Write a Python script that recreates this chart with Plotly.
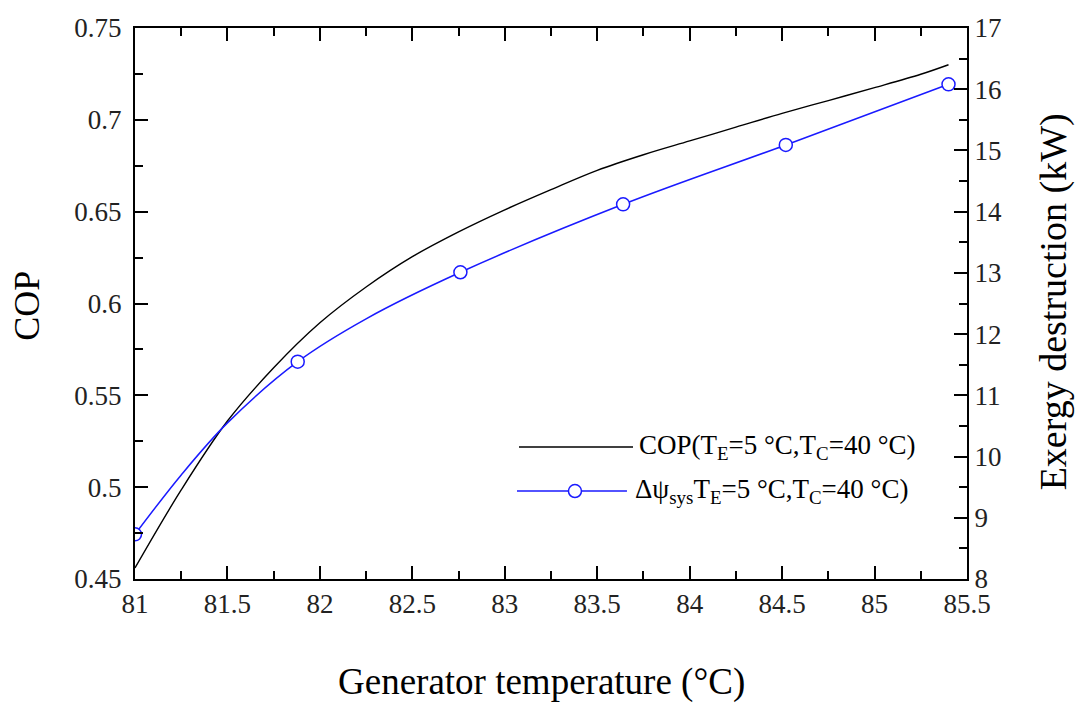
import plotly.graph_objects as go

# ---- data ----
cop_t = [81.0, 81.25, 81.5, 81.75, 82.0, 82.25, 82.5, 82.75, 83.0, 83.25, 83.5,
         83.75, 84.0, 84.25, 84.5, 84.75, 85.0, 85.25, 85.4]
cop_v = [0.456, 0.4985, 0.536, 0.565, 0.5895, 0.609, 0.6255, 0.639, 0.651, 0.662, 0.6725,
         0.681, 0.6885, 0.696, 0.7035, 0.7105, 0.7175, 0.7248, 0.730]

# markers of the exergy-destruction series
ex_t = [81.0, 81.88, 82.76, 83.64, 84.52, 85.4]
ex_v = [8.73, 11.55, 13.01, 14.12, 15.09, 16.08]
# the same curve read more densely (line path between markers)
ex_line_t = [81.0, 81.25, 81.5, 81.88, 82.25, 82.76, 83.64, 84.52, 85.4]
ex_line_v = [8.73, 9.70, 10.55, 11.55, 12.25, 13.01, 14.12, 15.09, 16.08]

x_title = "Generator temperature (°C)"
y_title = "COP"
y2_title = "Exergy destruction (kW)"
leg1 = "COP(T<sub>E</sub>=5 °C,T<sub>C</sub>=40 °C)"
leg2 = "Δψ<sub>sys</sub>T<sub>E</sub>=5 °C,T<sub>C</sub>=40 °C)"

FONT = "Liberation Serif"
BLUE = "#1a1aff"

fig = go.Figure()
fig.add_trace(go.Scatter(x=cop_t, y=cop_v, mode="lines",
                         line=dict(color="black", width=1.4, shape="spline"),
                         showlegend=False, yaxis="y"))
fig.add_trace(go.Scatter(x=ex_line_t, y=ex_line_v, mode="lines",
                         line=dict(color=BLUE, width=1.5, shape="spline"),
                         showlegend=False, yaxis="y2"))
fig.add_trace(go.Scatter(x=ex_t, y=ex_v, mode="markers",
                         marker=dict(symbol="circle", size=13, color="white",
                                     line=dict(color=BLUE, width=1.5)),
                         showlegend=False, yaxis="y2"))

tickfont = dict(family=FONT, size=27, color="#222")
axis_common = dict(showline=True, linecolor="black", linewidth=2,
                   ticks="inside", tickcolor="black", tickwidth=2, ticklen=13,
                   showgrid=False, zeroline=False, tickfont=tickfont)

fig.update_layout(
    width=1079, height=704,
    margin=dict(l=135, r=112, t=28, b=125),
    paper_bgcolor="white", plot_bgcolor="white",
    xaxis=dict(range=[81, 85.5], dtick=0.5, tick0=81, mirror="ticks",
               minor=dict(dtick=0.25, ticklen=8, tickwidth=2, tickcolor="black", ticks="inside"),
               **axis_common),
    yaxis=dict(range=[0.45, 0.75], dtick=0.05, tick0=0.45, ticklabelstandoff=6,
               minor=dict(dtick=0.025, ticklen=8, tickwidth=2, tickcolor="black", ticks="inside"),
               **axis_common),
    yaxis2=dict(range=[8, 17], dtick=1, tick0=8, overlaying="y", side="right",
                minor=dict(dtick=0.5, ticklen=8, tickwidth=2, tickcolor="black", ticks="inside"),
                **axis_common),
)

# axis titles
fig.add_annotation(text=x_title, xref="paper", yref="paper", x=0.488, y=-0.187,
                   xanchor="center", yanchor="middle", showarrow=False,
                   font=dict(family=FONT, size=37, color="black"))
fig.add_annotation(text=y_title, xref="paper", yref="paper", x=-0.13, y=0.4955,
                   xanchor="center", yanchor="middle", showarrow=False, textangle=-90,
                   font=dict(family=FONT, size=36, color="black"))
fig.add_annotation(text=y2_title, xref="paper", yref="paper", x=1.104, y=0.503,
                   xanchor="center", yanchor="middle", showarrow=False, textangle=-90,
                   font=dict(family=FONT, size=38, color="black"))

# legend (drawn manually)
fig.add_shape(type="line", xref="paper", yref="paper", x0=0.4615, x1=0.5986,
              y0=0.2396, y1=0.2396, line=dict(color="black", width=1.5))
fig.add_shape(type="line", xref="paper", yref="paper", x0=0.4591, x1=0.5913,
              y0=0.1597, y1=0.1597, line=dict(color=BLUE, width=1.5))
fig.add_shape(type="circle", xref="paper", yref="paper",
              xsizemode="pixel", ysizemode="pixel", xanchor=0.5288, yanchor=0.1597,
              x0=-6.5, x1=6.5, y0=-6.5, y1=6.5,
              fillcolor="white", line=dict(color=BLUE, width=1.5))
fig.add_annotation(text=leg1, xref="paper", yref="paper", x=0.603, y=0.2396,
                   xanchor="left", yanchor="middle", showarrow=False,
                   font=dict(family=FONT, size=27, color="black"))
fig.add_annotation(text=leg2, xref="paper", yref="paper", x=0.599, y=0.1597,
                   xanchor="left", yanchor="middle", showarrow=False,
                   font=dict(family=FONT, size=27, color="black"))

fig.write_html("out.html")
